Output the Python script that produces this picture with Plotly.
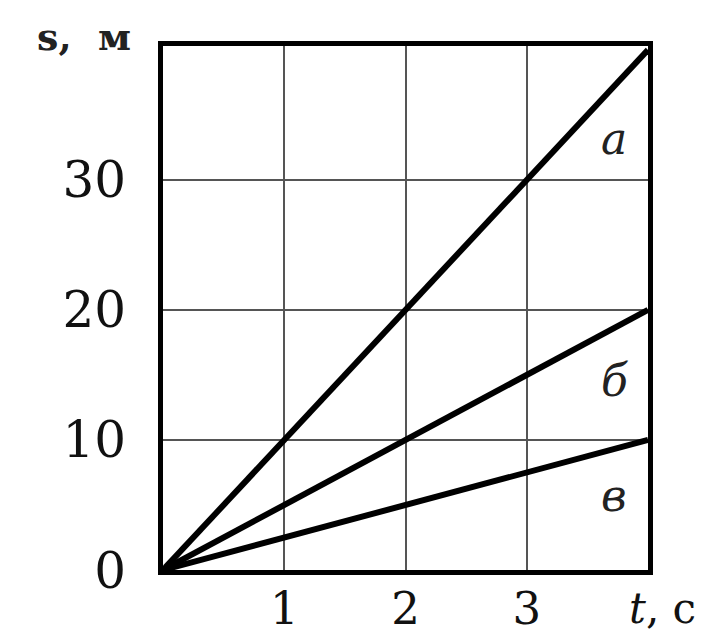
import plotly.graph_objects as go

t_vals = [0, 4]
s_a = [0, 40]
s_b = [0, 20]
s_v = [0, 10]

line_names = ["а", "б", "в"]
label_x = [3.72, 3.72, 3.72]
label_y = [33.2, 14.6, 5.7]

x_ticks = [1, 2, 3]
x_tick_text = ["1", "2", "3"]
y_ticks = [0, 10, 20, 30]
y_tick_text = ["0", "10", "20", "30"]

FONT = "DejaVu Serif"

fig = go.Figure()
for ys in (s_a, s_b, s_v):
    fig.add_trace(go.Scatter(x=t_vals, y=ys, mode="lines",
                             line=dict(color="black", width=6),
                             showlegend=False, hoverinfo="skip"))

for name, lx, ly in zip(line_names, label_x, label_y):
    fig.add_annotation(x=lx, y=ly, xref="x", yref="y", text=f"<i>{name}</i>",
                       showarrow=False, font=dict(family=FONT, size=44, color="#222"))

fig.add_annotation(x=1.0, y=0, xref="paper", yref="paper", xanchor="center", yanchor="middle",
                   xshift=14, yshift=-38, text="<i>t</i>, c", showarrow=False,
                   font=dict(family=FONT, size=42, color="#111"))
fig.add_annotation(x=0, y=1, xref="paper", yref="paper", xanchor="right", yanchor="middle",
                   xshift=-30, yshift=10, text="<b>s,  м</b>", showarrow=False,
                   font=dict(family=FONT, size=38, color="#222"))

fig.update_xaxes(range=[0, 4], tickvals=x_ticks, ticktext=x_tick_text,
                 showgrid=True, gridcolor="#555", gridwidth=2,
                 showline=True, linecolor="black", linewidth=5, mirror=True,
                 zeroline=False, ticks="", ticklabelstandoff=-5, automargin=False,
                 tickfont=dict(family=FONT, size=45, color="#111"))
fig.update_yaxes(range=[0, 40.3], tickvals=y_ticks, ticktext=y_tick_text,
                 showgrid=True, gridcolor="#555", gridwidth=2,
                 showline=True, linecolor="black", linewidth=5, mirror=True,
                 zeroline=False, ticks="", ticklabelstandoff=22, automargin=False,
                 tickfont=dict(family=FONT, size=50, color="#111"))

fig.update_layout(width=718, height=636, margin=dict(l=155, r=78, t=38, b=74, autoexpand=False),
                  plot_bgcolor="white", paper_bgcolor="white")

fig.write_html("out.html")
